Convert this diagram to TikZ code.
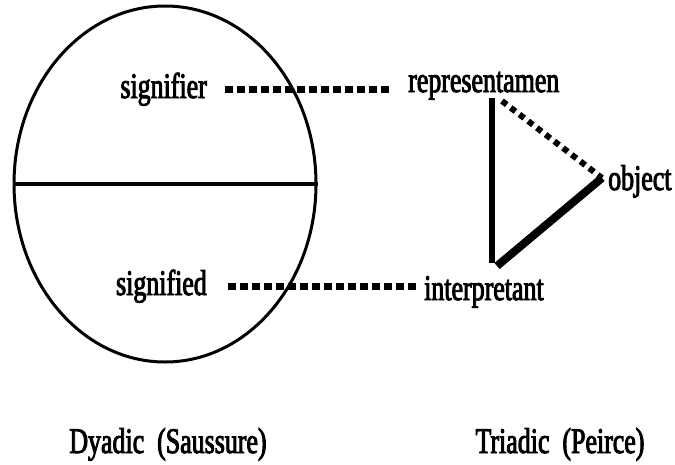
\documentclass[tikz,border=0pt]{standalone}
\usepackage{fontspec}
\newfontfamily\semfont[FakeStretch=0.72, FakeBold=2.5]{Liberation Serif}
\usetikzlibrary{shapes.geometric}

\begin{document}
\begin{tikzpicture}[x=1pt, y=-1pt,
    term/.style={inner sep=0pt, font=\semfont\fontsize{36}{42}\selectfont},
    sign/.style={ellipse, draw, line width=3pt, inner sep=0pt,
                 minimum width=302pt, minimum height=356pt},
    dotline/.style={line width=7pt, dash pattern=on 8pt off 4pt},
    dotdiag/.style={line width=6pt, dash pattern=on 6pt off 5pt},
    bar/.style={line width=6pt}
]
\useasboundingbox (0,0) rectangle (675,464);

% dyadic model
\node[sign] (saussure) at (165,184) {};
\draw[line width=4pt] (saussure.west) -- (saussure.east);
\node[term, anchor=base east] (signifier) at (207,98) {signifier};
\node[term, anchor=base east] (signified) at (207,295) {signified};

% triadic model
\node[term, anchor=base west] (repr) at (408,92) {representamen};
\node[term, anchor=base west] (object) at (608,190) {object};
\node[term, anchor=base west] (interp) at (424,300) {interpretant};
\coordinate (tri-r) at (492,98);
\coordinate (tri-d) at (502,101);
\coordinate (tri-o) at (602,178);
\coordinate (tri-i) at (492,263);
\coordinate (tri-b) at (497,266);

\draw[bar] (tri-r) -- (tri-i);
\draw[bar, line width=8pt] (tri-b) -- (tri-o);
\draw[dotdiag] (tri-d) -- (tri-o);

% links between the two
\draw[dotline, shorten <=18pt, shorten >=16pt] (signifier.east) -- (signifier.east -| repr.west);
\draw[dotline, shorten <=21pt, shorten >=7pt] (signified.east) -- (signified.east -| interp.west);

\node[term, anchor=base] (dyadic) at (168,453) {Dyadic\ \ (Saussure)};
\node[term, anchor=base] (triadic) at (560,453) {Triadic\ \ (Peirce)};
\end{tikzpicture}
\end{document}
